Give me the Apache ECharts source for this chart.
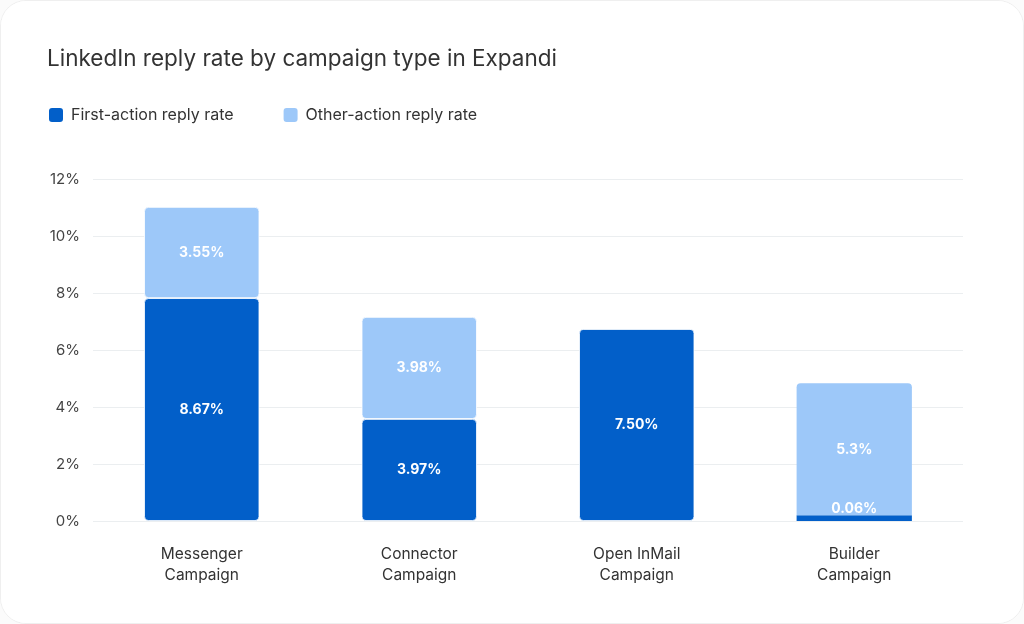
<!DOCTYPE html>
<html>
<head>
<meta charset="utf-8">
<script src="https://cdn.jsdelivr.net/npm/echarts@6/dist/echarts.min.js"></script>
<style>
  html, body { margin: 0; padding: 0; background: #fbfbfb; }
  #card {
    width: 1022px; height: 622px;
    background: #fff;
    border: 1px solid #efefef;
    border-radius: 26px;
    overflow: hidden;
  }
  #chart { width: 1022px; height: 622px; }
</style>
</head>
<body>
<div id="card"><div id="chart"></div></div>
<script>
var categories = ['Messenger\nCampaign', 'Connector\nCampaign', 'Open InMail\nCampaign', 'Builder\nCampaign']
// bar heights as drawn in the picture (%)
var firstAction = [7.82, 3.58, 6.74, 0.2]
var otherAction = [3.2, 3.58, 0, 4.63]
// printed labels
var firstLabels = ['8.67%', '3.97%', '7.50%', '0.06%']
var otherLabels = ['3.55%', '3.98%', '', '5.3%']
var yTicks = [0, 2, 4, 6, 8, 10, 12]

var chart = echarts.init(document.getElementById('chart'))
var font = 'Inter, "Noto Sans", sans-serif'

var option = {
  backgroundColor: '#fff',
  textStyle: { fontFamily: font },
  title: {
    text: 'LinkedIn reply rate by campaign type in Expandi',
    left: 46,
    top: 47,
    padding: 0,
    textStyle: { fontFamily: font, fontSize: 22.5, fontWeight: 'normal', color: '#333' }
  },
  legend: {
    left: 46,
    top: 105,
    padding: 0,
    itemWidth: 16,
    itemHeight: 16,
    itemGap: 48,
    icon: 'roundRect',
    textStyle: { fontFamily: font, fontSize: 16, color: '#333', padding: [0, 0, 0, 2] },
    data: ['First-action reply rate', 'Other-action reply rate']
  },
  grid: { left: 92, right: 60, top: 178, bottom: 102, containLabel: false },
  xAxis: {
    type: 'category',
    data: categories,
    axisLine: { show: false },
    axisTick: { show: false },
    axisLabel: { color: '#333', fontSize: 15.5, lineHeight: 21, margin: 23, fontFamily: font }
  },
  yAxis: {
    type: 'value',
    min: yTicks[0],
    max: yTicks[yTicks.length - 1],
    interval: 2,
    axisLine: { show: false },
    axisTick: { show: false },
    axisLabel: { color: '#444', fontSize: 15, margin: 13, formatter: '{value}%', fontFamily: font },
    splitLine: { lineStyle: { color: '#ebeef0', width: 1 } }
  },
  series: [{
    name: 'First-action reply rate',
    type: 'bar',
    stack: 'rate',
    barWidth: '53%',
    data: firstAction.map(function (v, i) {
      var item = { value: v }
      if (i === 3) {
        item.itemStyle = { borderRadius: 0, borderWidth: 0 }
        item.label = { position: 'top', distance: 0 }
      }
      return item
    }),
    itemStyle: { color: '#025fc9', borderRadius: 4, borderColor: '#fff', borderWidth: 0.8 },
    label: {
      show: true,
      position: 'inside',
      color: '#fff',
      fontSize: 14,
      fontWeight: 'bold',
      fontFamily: font,
      formatter: function (p) { return firstLabels[p.dataIndex] }
    }
  }, {
    name: 'Other-action reply rate',
    type: 'bar',
    stack: 'rate',
    data: otherAction.map(function (v, i) {
      var item = { value: v }
      if (i === 3) item.itemStyle = { borderRadius: [4, 4, 0, 0], borderWidth: 0 }
      return item
    }),
    itemStyle: { color: '#9dc8f9', borderRadius: 4, borderColor: '#fff', borderWidth: 0.8 },
    label: {
      show: true,
      position: 'inside',
      color: '#fff',
      fontSize: 14,
      fontWeight: 'bold',
      fontFamily: font,
      formatter: function (p) { return otherLabels[p.dataIndex] }
    }
  }]
}
chart.setOption(option)
</script>
</body>
</html>
